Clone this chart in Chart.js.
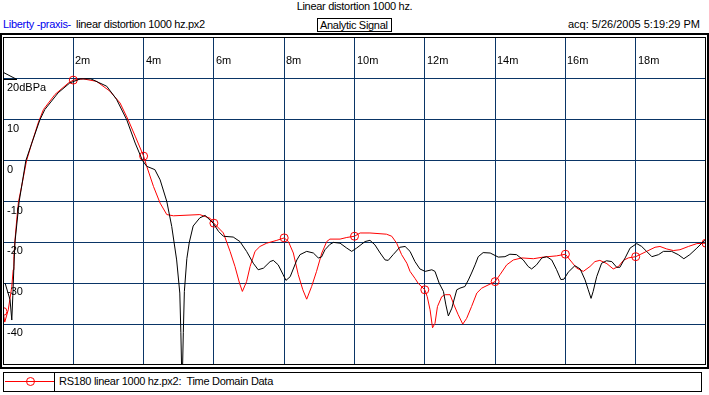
<!DOCTYPE html>
<html>
<head>
<meta charset="utf-8">
<script src="https://cdn.jsdelivr.net/npm/chart.js@4/dist/chart.umd.min.js"></script>
<style>
  body { margin: 0; background: #fff; font-family: "Liberation Sans", Arial, sans-serif; font-size: 11px; color: #000; }
  #page { position: relative; width: 709px; height: 395px; overflow: hidden; }
  .txt { position: absolute; line-height: 13px; white-space: pre; letter-spacing: -0.3px; }
  #outerFrame { position: absolute; left: 0; top: 33px; width: 709px; height: 336px; border: 2px solid #000; box-sizing: border-box; }
  #innerFrame { position: absolute; left: 3px; top: 37px; width: 703px; height: 328px; border: 1px solid #000; box-sizing: border-box; z-index: 2; pointer-events: none; }
  #plot { position: absolute; left: 3px; top: 38px; width: 703px; height: 327px; z-index: 1; }
  #legend { position: absolute; left: 3px; top: 372px; width: 699px; height: 20px; border: 1px solid #000; box-sizing: border-box; }
</style>
</head>
<body>
<div id="page">
  <div class="txt" style="left:0;top:0;width:709px;text-align:center;">Linear distortion 1000 hz.</div>
  <div class="txt" style="left:3px;top:18px;color:#0000ee;">Liberty -praxis-</div>
  <div class="txt" style="left:76px;top:18px;">linear distortion 1000 hz.px2</div>
  <div class="txt" style="left:317px;top:18px;width:75px;height:14px;border:1px solid #000;box-sizing:border-box;padding-left:2px;line-height:12px;">Analytic Signal</div>
  <div class="txt" style="right:9px;top:18px;letter-spacing:0;">acq: 5/26/2005 5:19:29 PM</div>

  <div id="outerFrame"></div>
  <div id="plot"><canvas id="chart" width="703" height="327"></canvas></div>
  <div id="innerFrame"></div>

  <div id="legend">
    <div style="position:absolute;left:1px;top:8px;width:49px;height:1px;background:#ff0000;"></div>
    <div style="position:absolute;left:22px;top:4px;width:7px;height:7px;border:1px solid #ff0000;border-radius:50%;"></div>
    <div style="position:absolute;left:50px;top:0;width:1px;height:18px;background:#000;"></div>
    <div class="txt" style="left:55px;top:2px;">RS180 linear 1000 hz.px2:  Time Domain Data</div>
  </div>
</div>

<script>
// axis ticks (time in ms, level in dB)
const xTicks = [2, 4, 6, 8, 10, 12, 14, 16, 18];
const xTickLabels = ['2m', '4m', '6m', '8m', '10m', '12m', '14m', '16m', '18m'];
const yTicks = [20, 10, 0, -10, -20, -30, -40];
const yTickLabels = ['20dBPa', '10', '0', '-10', '-20', '-30', '-40'];

// black trace (analytic signal, no markers)
const blackTime = [0.06, 0.2, 0.25, 0.28, 0.31, 0.34, 0.46, 0.65, 0.82, 1.05, 1.19, 1.57, 1.9, 2.2, 2.5,
  2.95, 3.23, 3.52, 3.76, 3.97, 4.09, 4.32, 4.47, 4.66, 4.8, 4.94, 5.03, 5.06, 5.08, 5.11, 5.13, 5.16,
  5.23, 5.3, 5.41, 5.6, 5.75, 5.98, 6.13, 6.27, 6.55, 6.74, 6.93, 7.12, 7.26, 7.41, 7.6, 7.69, 7.83,
  7.97, 8.05, 8.17, 8.36, 8.45, 8.64, 8.83, 8.97, 9.06, 9.16, 9.3, 9.4, 9.59, 9.78, 9.92, 10.06, 10.3,
  10.44, 10.58, 10.73, 10.87, 10.96, 11.1, 11.29, 11.44, 11.58, 11.72, 11.86, 12.01, 12.2, 12.29,
  12.41, 12.53, 12.6, 12.67, 12.77, 12.83, 12.91, 13.0, 13.14, 13.24, 13.33, 13.43, 13.52, 13.66,
  13.86, 14.09, 14.28, 14.42, 14.61, 14.8, 14.94, 15.04, 15.18, 15.33, 15.47, 15.61, 15.75, 15.87,
  15.96, 16.08, 16.27, 16.42, 16.56, 16.65, 16.73, 16.79, 16.89, 17.03, 17.17, 17.32, 17.46, 17.55,
  17.7, 17.84, 18.03, 18.17, 18.31, 18.46, 18.65, 18.79, 19.02, 19.21, 19.37, 19.54, 19.74, 19.88, 19.97];
const blackLevel = [-30, -34, -39, -33, -26, -20, -10, 0, 4.3, 10, 12.5, 16.6, 19, 20, 20,
  18.2, 15, 10, 4.3, 0, -1.4, -2.2, -4.7, -10, -16.1, -24.3, -32.4, -42, -50, -50, -42, -32,
  -24, -20, -16, -14, -13.4, -15.3, -17.3, -18.5, -18.7, -19.8, -22.2, -25.1, -26.7, -26.3, -24.7, -24.4, -25.5,
  -27.9, -29.3, -28.4, -24.3, -23, -22.2, -22.6, -23.8, -23.6, -21.8, -20.5, -20, -20.2, -21.4, -22.2, -21.4, -19.8,
  -19.5, -20.6, -22.6, -24.3, -24.4, -23, -21.2, -21, -22.2, -24.7, -26.5, -27.1, -26.7, -27.1,
  -30, -32, -35.3, -38, -36.1, -34.1, -31.6, -31.2, -30.8, -29.2, -27.5, -25.5, -23.5, -22.5,
  -22.6, -23.6, -23.5, -22.9, -23, -24.3, -25.9, -26.5, -25.5, -23.8, -23.5, -24.3, -26.7, -29.1,
  -29, -27.3, -25.7, -26.5, -29.2, -31.6, -33.7, -32, -28.4, -25.1, -24.5, -24.7, -26.1, -26.1,
  -23.8, -21.4, -20.3, -21, -22.2, -23.5, -23, -22.2, -22.2, -23, -24, -23, -21.4, -20.2, -19.5];

// red trace (time domain data, circle every 2 ms)
const redTime = [0, 0.05, 0.15, 0.25, 0.29, 0.31, 0.34, 0.39, 0.44, 0.53, 0.67, 0.82, 1.0, 1.15, 1.48,
  1.86, 2.0, 2.28, 2.66, 3.04, 3.33, 3.56, 3.76, 4.0, 4.09, 4.28, 4.47, 4.66, 4.85, 5.6, 5.89, 6.0,
  6.27, 6.46, 6.6, 6.73, 6.81, 6.93, 7.03, 7.17, 7.31, 7.5, 7.79, 8.0, 8.12, 8.26, 8.4, 8.53, 8.64,
  8.78, 8.92, 9.07, 9.21, 9.3, 9.59, 9.78, 10.0, 10.16, 10.44, 10.91, 11.06, 11.2, 11.34, 11.49,
  11.58, 11.72, 11.81, 12.0, 12.07, 12.15, 12.22, 12.29, 12.36, 12.48, 12.58, 12.72, 12.83, 12.95,
  13.08, 13.19, 13.33, 13.48, 13.62, 14.0, 14.14, 14.33, 14.52, 14.76, 15.09, 15.37, 15.75, 16.0,
  16.13, 16.32, 16.51, 16.7, 16.84, 16.98, 17.18, 17.36, 17.51, 17.65, 17.79, 18.0, 18.12, 18.31,
  18.55, 18.69, 18.88, 19.07, 19.26, 19.5, 19.74, 20.0];
const redLevel = [-36.9, -39.5, -36.5, -30.8, -26.7, -23.5, -19.6, -14.5, -10.1, -6.3, 0, 4.3, 9.2, 12.5, 16.2,
  19, 19.7, 20, 19.4, 17, 14.1, 10, 6, 1.1, -1.4, -6.3, -10.4, -13.2, -13.5, -13.2, -14.1, -15.3,
  -17.7, -22.2, -25.9, -30, -32, -29.6, -25.9, -22.2, -21, -20.2, -19.5, -18.9, -19.8, -22.6, -27.9, -31.6, -33.9,
  -30.8, -27.1, -22.6, -19.8, -19.2, -19.2, -18.8, -18.5, -17.7, -17.7, -18, -18.5, -20.2, -23, -25.1,
  -27.1, -28.8, -30, -31.6, -33.3, -36.5, -40.9, -39.8, -35.7, -33.3, -32.8, -32.8, -35.3, -37.7,
  -40, -38.6, -35.7, -32.4, -31.2, -29.6, -27.9, -25.5, -24.3, -23.8, -24, -23.6, -23.3, -22.9,
  -24.3, -26.3, -27.1, -25.9, -24.7, -24.4, -25.2, -26.5, -25.9, -24.4, -23.8, -23.5, -23, -22.2,
  -21.2, -21, -21.6, -22, -21.8, -21, -20.3, -20.2];
const redMarkerTimes = [0, 2, 4, 6, 8, 10, 12, 14, 16, 18, 20];

const gridColor = '#0a3566';

function toPoints(xs, ys) {
    return xs.map((x, i) => ({ x: x, y: ys[i] }));
}

// tick labels drawn inside the plot, next to the grid lines
const insideLabels = {
    id: 'insideLabels',
    afterDraw(chart) {
        const ctx = chart.ctx;
        const xs = chart.scales.x;
        const ys = chart.scales.y;
        ctx.save();
        ctx.font = '11px "Liberation Sans", Arial, sans-serif';
        ctx.fillStyle = '#000';
        ctx.textBaseline = 'alphabetic';
        ctx.textAlign = 'left';
        xTicks.forEach((v, i) => {
            ctx.fillText(xTickLabels[i], Math.round(xs.getPixelForValue(v)) + 2, chart.chartArea.top + 26);
        });
        yTicks.forEach((v, i) => {
            ctx.fillText(yTickLabels[i], 4, Math.round(ys.getPixelForValue(v)) + 12);
        });
        // reference level marker at 20 dB
        const ry = Math.round(ys.getPixelForValue(20)) + 0.5;
        ctx.strokeStyle = '#000';
        ctx.lineWidth = 1;
        ctx.beginPath();
        ctx.moveTo(0.5, ry - 7);
        ctx.lineTo(0.5, ry);
        ctx.lineTo(14, ry);
        ctx.closePath();
        ctx.stroke();
        ctx.restore();
    }
};

new Chart(document.getElementById('chart'), {
    type: 'line',
    data: {
        datasets: [{
            label: 'Analytic Signal',
            data: toPoints(blackTime, blackLevel),
            borderColor: '#000',
            borderWidth: 1,
            pointRadius: 0,
            tension: 0
        }, {
            label: 'RS180 linear 1000 hz.px2:  Time Domain Data',
            data: toPoints(redTime, redLevel),
            borderColor: '#ff0000',
            borderWidth: 1,
            tension: 0,
            pointStyle: 'circle',
            pointBackgroundColor: 'rgba(0,0,0,0)',
            pointBorderColor: '#ff0000',
            pointBorderWidth: 1,
            pointRadius: (c) => redMarkerTimes.includes(c.raw && c.raw.x) ? 4 : 0
        }]
    },
    options: {
        responsive: false,
        animation: false,
        events: [],
        layout: { padding: 0, autoPadding: false },
        plugins: { legend: { display: false }, tooltip: { enabled: false } },
        scales: {
            x: {
                type: 'linear',
                min: 0,
                max: 20,
                ticks: { display: false, stepSize: 2 },
                border: { display: false },
                grid: {
                    drawTicks: false,
                    lineWidth: 1,
                    color: (c) => (c.tick && (c.tick.value <= 0 || c.tick.value >= 20)) ? 'rgba(0,0,0,0)' : gridColor
                }
            },
            y: {
                min: -50,
                max: 30,
                ticks: { display: false, stepSize: 10 },
                border: { display: false },
                grid: {
                    drawTicks: false,
                    lineWidth: 1,
                    color: (c) => (c.tick && (c.tick.value <= -50 || c.tick.value >= 30)) ? 'rgba(0,0,0,0)' : gridColor
                }
            }
        }
    },
    plugins: [insideLabels]
});
</script>
</body>
</html>
